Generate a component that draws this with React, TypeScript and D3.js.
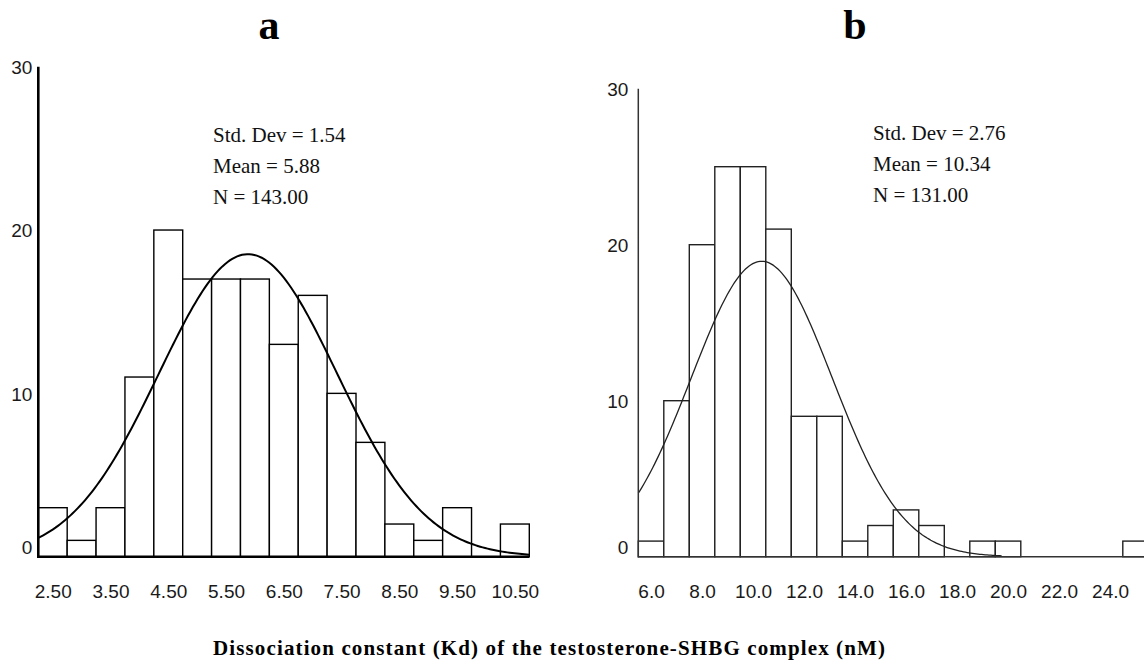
import React, { useEffect, useRef } from 'react';
import * as d3 from 'd3';

// panel a: Kd histogram, bins of 0.5 nM
const binsA = [2.5, 3.0, 3.5, 4.0, 4.5, 5.0, 5.5, 6.0, 6.5, 7.0, 7.5, 8.0, 8.5, 9.0, 9.5, 10.0, 10.5];
const countsA = [3, 1, 3, 11, 20, 17, 17, 17, 13, 16, 10, 7, 2, 1, 3, 0, 2];
const ticksA = [2.5, 3.5, 4.5, 5.5, 6.5, 7.5, 8.5, 9.5, 10.5];
const statsA = { sd: 1.54, mean: 5.88, n: 143 };

// panel b: bins of 1.0 nM
const binsB = [6, 7, 8, 9, 10, 11, 12, 13, 14, 15, 16, 17, 18, 19, 20, 21, 22, 23, 24, 25];
const countsB = [1, 10, 20, 25, 25, 21, 9, 9, 1, 2, 3, 2, 0, 1, 1, 0, 0, 0, 0, 1];
const ticksB = [6, 8, 10, 12, 14, 16, 18, 20, 22, 24];
const statsB = { sd: 2.76, mean: 10.34, n: 131 };

const yTicks = [0, 10, 20, 30];

const drawPanel = (svg, p) => {
    const g = svg.append('g');
    const x = d3.scaleLinear().domain(p.xDomain).range(p.xRange);
    const y = d3.scaleLinear().domain([0, 30]).range(p.yRange);
    const half = p.binWidth / 2;

    const rows = p.bins.map((c, i) => ({ c, n: p.counts[i] })).filter(d => d.n > 0);

    g.selectAll('.bar')
        .data(rows)
        .enter()
        .append('rect')
        .attr('class', 'bar')
        .attr('x', d => x(d.c - half))
        .attr('width', d => x(d.c + half) - x(d.c - half))
        .attr('y', d => y(d.n))
        .attr('height', d => y(0) - y(d.n))
        .attr('fill', 'white')
        .attr('stroke', p.barColor)
        .attr('stroke-width', 1.4);

    // fitted normal curve from the printed stats
    const scaleN = p.stats.n * p.binWidth / (p.stats.sd * Math.sqrt(2 * Math.PI));
    const dens = v => scaleN * Math.exp(-0.5 * ((v - p.stats.mean) / p.stats.sd) ** 2);
    const pts = d3.range(0, 201).map(i => p.curve[0] + (p.curve[1] - p.curve[0]) * i / 200);

    g.append('path')
        .datum(pts)
        .attr('fill', 'none')
        .attr('stroke', p.curveColor)
        .attr('stroke-width', p.curveWidth)
        .attr('d', d3.line().x(d => x(d)).y(d => y(dens(d))));

    // x tick labels
    const xa = g.append('g')
        .attr('transform', `translate(0,598)`)
        .call(d3.axisBottom(x).tickValues(p.ticks).tickSize(0).tickFormat(p.fmt));
    xa.select('.domain').remove();
    xa.selectAll('.tick text')
        .attr('y', 0)
        .attr('dy', 0)
        .attr('fill', '#1a1a1a')
        .style('font-family', '"Liberation Sans", Arial, sans-serif')
        .style('font-size', '19px');

    // y tick labels
    const ya = g.append('g')
        .attr('transform', `translate(${p.xRange[0]},0)`)
        .call(d3.axisLeft(y).tickValues(yTicks).tickSize(0).tickPadding(p.yPad).tickFormat(d3.format('d')));
    ya.select('.domain').remove();
    ya.selectAll('.tick text')
        .attr('dy', d => (d === 0 ? '-0.15em' : '0.35em'))
        .attr('fill', '#1a1a1a')
        .style('font-family', '"Liberation Sans", Arial, sans-serif')
        .style('font-size', '19px');

    // axis lines
    g.append('line')
        .attr('x1', p.xRange[0]).attr('x2', p.xRange[0])
        .attr('y1', y(30)).attr('y2', y(0) + p.axisWidth / 2)
        .attr('stroke', p.axisColor).attr('stroke-width', p.axisWidth);
    g.append('line')
        .attr('x1', p.xRange[0]).attr('x2', p.xRange[1])
        .attr('y1', y(0)).attr('y2', y(0))
        .attr('stroke', p.axisColor).attr('stroke-width', p.axisWidth);

    // panel letter
    g.append('text')
        .attr('x', p.titleX).attr('y', 39)
        .attr('text-anchor', 'middle')
        .style('font-family', '"Liberation Serif", "Times New Roman", serif')
        .style('font-weight', 'bold')
        .style('font-size', '42px')
        .text(p.title);

    // stats block
    const lines = [
        `Std. Dev = ${p.stats.sd.toFixed(2)}`,
        `Mean = ${p.stats.mean.toFixed(2)}`,
        `N = ${p.stats.n.toFixed(2)}`
    ];
    g.selectAll('.stat')
        .data(lines)
        .enter()
        .append('text')
        .attr('class', 'stat')
        .attr('x', p.statX)
        .attr('y', (d, i) => p.statY + i * 31)
        .attr('fill', '#111')
        .style('font-family', '"Liberation Serif", "Times New Roman", serif')
        .style('font-size', '21px')
        .text(d => d);
};

const App = () => {
    const svgRef = useRef();

    useEffect(() => {
        const svg = d3.select(svgRef.current);
        svg.selectAll('*').remove();

        drawPanel(svg, {
            bins: binsA, counts: countsA, ticks: ticksA, stats: statsA,
            binWidth: 0.5, xDomain: [2.25, 10.75], xRange: [38.3, 529.3], yRange: [556.7, 66.7],
            curve: [2.25, 10.75], fmt: d3.format('.2f'),
            barColor: '#000', curveColor: '#000', curveWidth: 2,
            axisColor: '#000', axisWidth: 2.6, yPad: 6,
            title: 'a', titleX: 269, statX: 213, statY: 142
        });

        drawPanel(svg, {
            bins: binsB, counts: countsB, ticks: ticksB, stats: statsB,
            binWidth: 1, xDomain: [5.5, 25.5], xRange: [638.3, 1148.3], yRange: [556.7, 88.7],
            curve: [5.5, 19.75], fmt: d3.format('.1f'),
            barColor: '#222', curveColor: '#222', curveWidth: 1.3,
            axisColor: '#333', axisWidth: 1.5, yPad: 10,
            title: 'b', titleX: 855, statX: 873, statY: 140
        });

        svg.append('text')
            .attr('x', 549).attr('y', 655)
            .attr('text-anchor', 'middle')
            .attr('textLength', 672)
            .attr('lengthAdjust', 'spacing')
            .style('font-family', '"Liberation Serif", "Times New Roman", serif')
            .style('font-weight', 'bold')
            .style('font-size', '21px')
            .text('Dissociation constant (Kd) of the testosterone-SHBG complex (nM)');
    }, []);

    return (
        <div style={{ position: 'absolute', left: 0, top: 0, background: 'white' }}>
            <svg ref={svgRef} width={1144} height={668} style={{ display: 'block' }} />
        </div>
    );
};

export default App;
